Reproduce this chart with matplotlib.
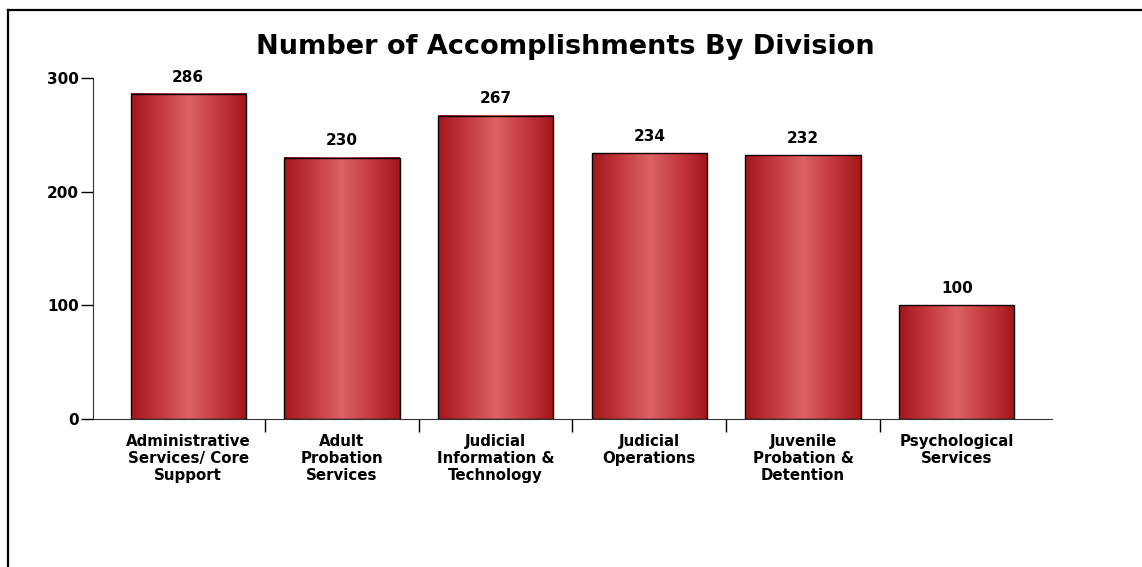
import numpy as np
import matplotlib.pyplot as plt
from matplotlib.colors import LinearSegmentedColormap
from matplotlib.lines import Line2D

# Datos del gráfico
divisiones = ["Administrative\nServices/ Core\nSupport", "Adult\nProbation\nServices",
              "Judicial\nInformation &\nTechnology", "Judicial\nOperations",
              "Juvenile\nProbation &\nDetention", "Psychological\nServices"]
logros = [286, 230, 267, 234, 232, 100]
ticks_y = [0, 100, 200, 300]

plt.rcParams['font.family'] = ['DejaVu Sans']
plt.rcParams['font.weight'] = 'bold'

fig = plt.figure(figsize=(11.42, 5.67), dpi=100)
ax = fig.add_axes([0.0814, 0.261, 0.8398, 0.6014])

# Degradado rojo (oscuro en los bordes, claro en el centro)
cmap = LinearSegmentedColormap.from_list("rojo", ["#a3171b", "#c23a3e", "#dc6264", "#c33a3e", "#a3161a"])
grad = np.linspace(0, 1, 256).reshape(1, -1)

ancho = 0.75
x = np.arange(len(divisiones))
for xi, v in zip(x, logros):
    ax.imshow(grad, extent=[xi - ancho / 2, xi + ancho / 2, 0, v], aspect='auto',
              cmap=cmap, zorder=2, interpolation='bicubic')
    ax.bar(xi, v, width=ancho, facecolor='none', edgecolor='black', linewidth=1.0, zorder=3)
    ax.text(xi, v + 8, str(v), ha='center', va='bottom', fontsize=11, fontweight='bold', clip_on=False)

ax.set_xlim(-0.62, 5.62)
ax.set_ylim(0, 300)
ax.set_yticks(ticks_y)
ax.set_yticklabels([str(t) for t in ticks_y], fontsize=11, fontweight='bold')
ax.tick_params(axis='y', direction='out', length=9, width=1, pad=1)

ax.set_xticks(x)
ax.set_xticklabels(divisiones, fontsize=10.8, fontweight='bold', linespacing=1.17)
ax.tick_params(axis='x', which='major', length=0, pad=11)
ax.set_xticks(x[:-1] + 0.5, minor=True)
ax.tick_params(axis='x', which='minor', direction='out', length=9, width=1)

for s in ['top', 'right']:
    ax.spines[s].set_visible(False)
ax.spines['left'].set_color('#333333')
ax.spines['bottom'].set_color('#333333')

ax.set_title("Number of Accomplishments By Division", fontsize=19.5, fontweight='bold',
             pad=17, x=0.493)

# Marco exterior
fig.add_artist(Line2D([8 / 1142, 8 / 1142], [0, 1 - 10 / 567], color='black', linewidth=1.6))
fig.add_artist(Line2D([8 / 1142, 1], [1 - 10 / 567, 1 - 10 / 567], color='black', linewidth=1.6))

fig.savefig("out.png", dpi=100)
